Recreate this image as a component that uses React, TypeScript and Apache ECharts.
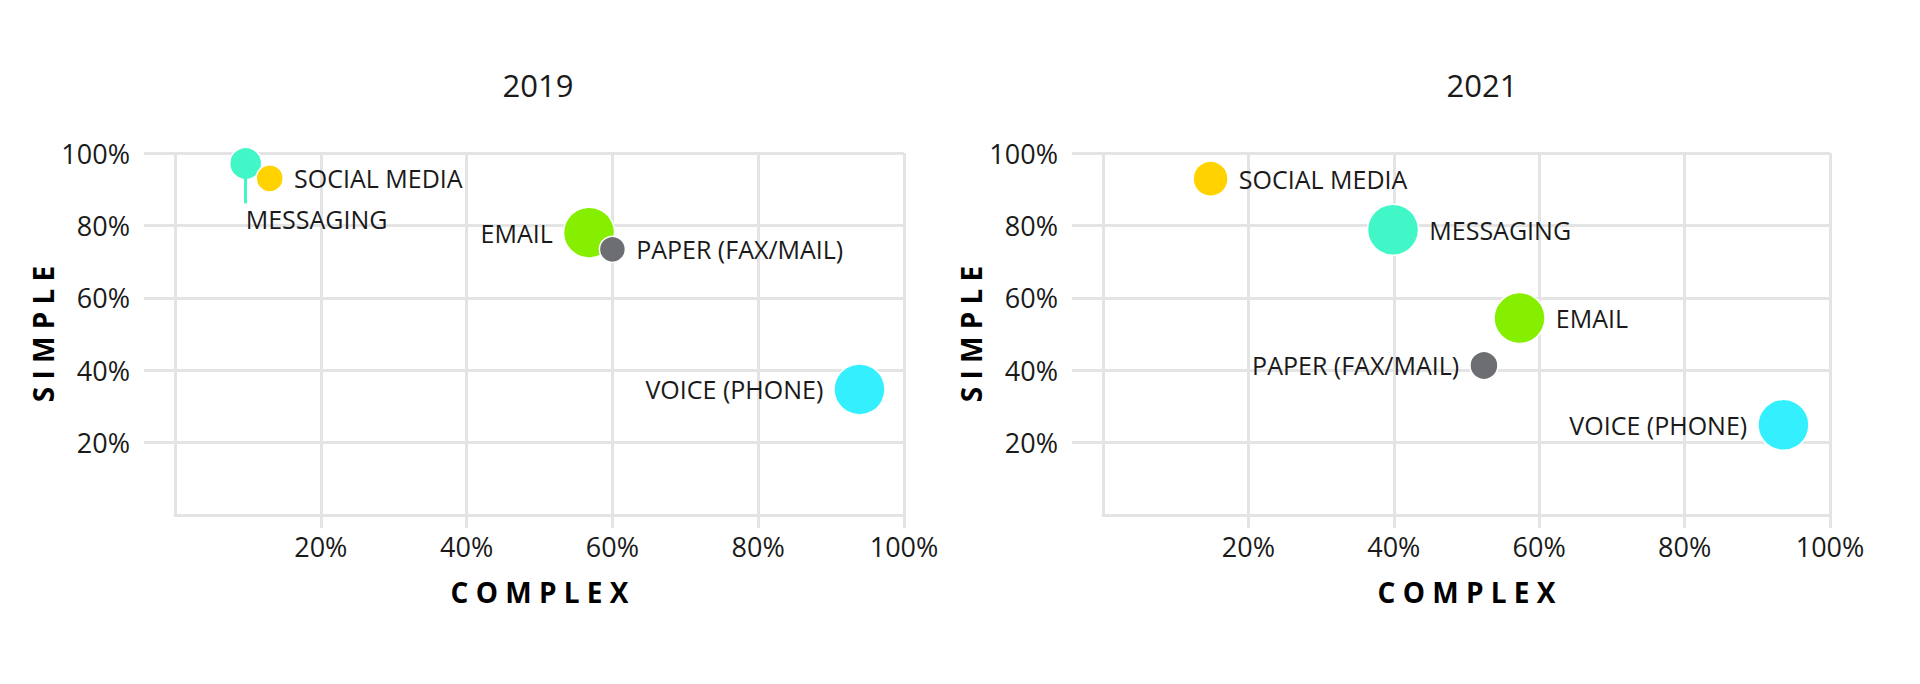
import { useEffect, useRef } from 'react'
import * as echarts from 'echarts'

// channel order also sets draw order (later ones sit on top)
const channels = ['MESSAGING', 'SOCIAL MEDIA', 'EMAIL', 'PAPER (FAX/MAIL)', 'VOICE (PHONE)']
const years = ['2019', '2021']

const complex2019 = [9.7, 13.0, 56.8, 60.0, 93.9]
const simple2019 = [97.1, 93.0, 78.0, 73.4, 34.7]
const volume2019 = [32, 27, 51, 26, 51]

const complex2021 = [39.9, 14.8, 57.3, 52.4, 93.6]
const simple2021 = [78.8, 92.9, 54.4, 41.3, 24.9]
const volume2021 = [51, 35, 51, 28, 51]

const percentTicks = [20, 40, 60, 80, 100]

const channelColors = ['#41f7c7', '#ffd200', '#86ef00', '#6d6e72', '#34f0ff']
const labelSide2019 = ['bottom', 'right', 'left', 'right', 'left']
const labelSide2021 = ['right', 'right', 'right', 'left', 'left']

const FONT = '"Open Sans", "Noto Sans", sans-serif'
const GRID_COLOR = '#e4e4e4'
const TEXT = '#1a1a1a'

function buildAxes(gridIndex: number) {
  const common = {
    gridIndex,
    type: 'value' as const,
    min: 0,
    max: 100,
    interval: 20,
    axisLine: { show: true, lineStyle: { color: GRID_COLOR, width: 3 } },
    splitLine: { show: true, lineStyle: { color: GRID_COLOR, width: 3 } },
    nameLocation: 'middle' as const,
    nameTextStyle: { fontFamily: FONT, fontWeight: 'bold' as const, fontSize: 28, color: '#000' }
  }
  const x = {
    ...common,
    name: 'C O M P L E X',
    nameGap: 63,
    axisTick: { show: true, length: 13, customValues: percentTicks, lineStyle: { color: GRID_COLOR, width: 3 } },
    axisLabel: { customValues: percentTicks, formatter: '{value}%', margin: 18, fontSize: 27, fontFamily: FONT, color: TEXT }
  }
  const y = {
    ...common,
    name: 'S I M P L E',
    nameGap: 106,
    axisTick: { show: true, length: 31, customValues: percentTicks, lineStyle: { color: GRID_COLOR, width: 3 } },
    axisLabel: { customValues: percentTicks, formatter: '{value}%', margin: 45, fontSize: 27, fontFamily: FONT, color: TEXT }
  }
  return { x, y }
}

function buildPoints(xs: number[], ys: number[], vols: number[], sides: string[]) {
  return channels.map((name, i) => ({
    name,
    value: [xs[i], ys[i], vols[i]],
    itemStyle: { color: channelColors[i] },
    label: sides[i] === 'bottom'
      ? { position: 'bottom', align: 'left', distance: 26 }
      : { position: sides[i] }
  }))
}

export default function App() {
  const chartRef = useRef<HTMLDivElement>(null)

  useEffect(() => {
    const host = chartRef.current
    if (!host) return
    document.body.style.margin = '0'

    const chart = echarts.init(host, null, { renderer: 'svg' })
    const a0 = buildAxes(0)
    const a1 = buildAxes(1)

    const seriesBase = {
      type: 'scatter' as const,
      symbol: 'circle',
      symbolSize: (v: number[]) => v[2],
      itemStyle: { borderColor: '#ffffff', borderWidth: 1.5, opacity: 1 },
      label: {
        show: true,
        formatter: '{b}',
        distance: 10,
        fontSize: 25,
        fontFamily: FONT,
        color: TEXT
      },
      emphasis: { disabled: true }
    }

    const option: echarts.EChartsOption = {
      animation: false,
      backgroundColor: '#ffffff',
      textStyle: { fontFamily: FONT },
      title: [
        { text: years[0], left: 533, top: 64, textAlign: 'center', textStyle: { fontFamily: FONT, fontSize: 31, fontWeight: 'normal', color: TEXT } },
        { text: years[1], left: 1477, top: 64, textAlign: 'center', textStyle: { fontFamily: FONT, fontSize: 31, fontWeight: 'normal', color: TEXT } }
      ],
      grid: [
        { left: 175, top: 153, width: 729, height: 362 },
        { left: 1103, top: 153, width: 727, height: 362 }
      ],
      xAxis: [a0.x, a1.x],
      yAxis: [a0.y, a1.y],
      series: [
        {
          ...seriesBase,
          name: years[0],
          xAxisIndex: 0,
          yAxisIndex: 0,
          data: buildPoints(complex2019, simple2019, volume2019, labelSide2019),
          // leader from the messaging bubble down to its label
          markLine: {
            silent: true,
            symbol: ['none', 'none'],
            label: { show: false },
            lineStyle: { color: channelColors[0], width: 3, type: 'solid' },
            data: [[
              { coord: [complex2019[0], simple2019[0]] },
              { coord: [complex2019[0], simple2019[0] - 11] }
            ]]
          }
        },
        {
          ...seriesBase,
          name: years[1],
          xAxisIndex: 1,
          yAxisIndex: 1,
          data: buildPoints(complex2021, simple2021, volume2021, labelSide2021)
        }
      ]
    }

    chart.setOption(option)

    return () => {
      chart.dispose()
    }
  }, [])

  return <div ref={chartRef} style={{ width: 1920, height: 684 }} />
}
